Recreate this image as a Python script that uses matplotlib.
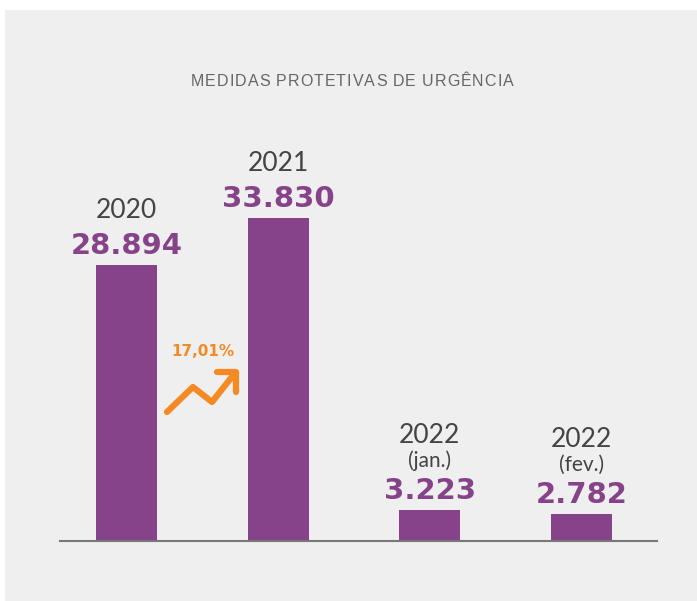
import matplotlib
matplotlib.use('Agg')
import matplotlib.pyplot as plt
from matplotlib.patches import Rectangle

# data
anos = ['2020', '2021', '2022', '2022']
meses = ['', '', '(jan.)', '(fev.)']
valores = [28894, 33830, 3223, 2782]
rotulos = ['28.894', '33.830', '3.223', '2.782']
variacao = '17,01%'
titulo = 'MEDIDAS PROTETIVAS DE URGÊNCIA'

roxo = '#86438a'
laranja = '#f58a25'
fundo = '#efefef'

fig = plt.figure(figsize=(6.97, 6.01), dpi=100)
fig.patch.set_facecolor('white')
fig.patches.append(Rectangle((5/697, 0), 1, 1 - 10/601, transform=fig.transFigure,
                             facecolor=fundo, edgecolor='none', zorder=-10))

ax = fig.add_axes([60/697, 60/601, 597/697, 441/601])
ax.set_facecolor('none')
x = list(range(len(valores)))
ax.bar(x, valores, width=0.402, color=roxo, zorder=2)
ax.set_xlim(-0.438, 3.497)
ax.set_ylim(0, 46188)
for s in ['top', 'right', 'left']:
    ax.spines[s].set_visible(False)
ax.spines['bottom'].set_color('#777777')
ax.spines['bottom'].set_linewidth(1.5)
ax.set_xticks([])
ax.set_yticks([])

for i, v in enumerate(valores):
    ax.annotate(rotulos[i], (x[i], v), xytext=(0, 14), textcoords='offset points',
                ha='center', va='center', fontsize=21, fontweight='bold',
                family='DejaVu Sans', color=roxo)
    if meses[i]:
        ax.annotate(meses[i], (x[i], v), xytext=(0, 36), textcoords='offset points',
                    ha='center', va='center', fontsize=15, family='Lato',
                    color='#444444')
        ax.annotate(anos[i], (x[i], v), xytext=(0, 54), textcoords='offset points',
                    ha='center', va='center', fontsize=19, family='Lato',
                    color='#444444')
    else:
        ax.annotate(anos[i], (x[i], v), xytext=(0, 39), textcoords='offset points',
                    ha='center', va='center', fontsize=19, family='Lato',
                    color='#444444')

# seta de crescimento entre 2020 e 2021
ax.plot([0.267, 0.438, 0.564, 0.715], [13511, 16129, 14558, 17595],
        color=laranja, lw=4.5, solid_capstyle='round', solid_joinstyle='round', zorder=3)
ax.plot([0.597, 0.722, 0.722], [17700, 17700, 15605],
        color=laranja, lw=4.5, solid_capstyle='round', solid_joinstyle='round', zorder=3)
ax.text(0.505, 19795, variacao, ha='center', va='center', fontsize=11,
        fontweight='bold', family='DejaVu Sans', color=laranja)

# titulo com espacamento entre letras
renderer = fig.canvas.get_renderer()
tam = 11.5
larguras = []
for c in titulo:
    t = fig.text(0, 0, c if c != ' ' else 'i', fontsize=tam, family='Liberation Sans')
    larguras.append(t.get_window_extent(renderer).width)
    t.remove()
espaco = (323 - sum(larguras)) / (len(titulo) - 1)
px = 352 - 323 / 2
for c, w in zip(titulo, larguras):
    if c != ' ':
        fig.text(px / 697, 1 - 81 / 601, c, ha='left', va='center', fontsize=tam,
                 family='Liberation Sans', color='#666666')
    px += w + espaco

fig.savefig('out.png', dpi=100, facecolor=fig.get_facecolor())
